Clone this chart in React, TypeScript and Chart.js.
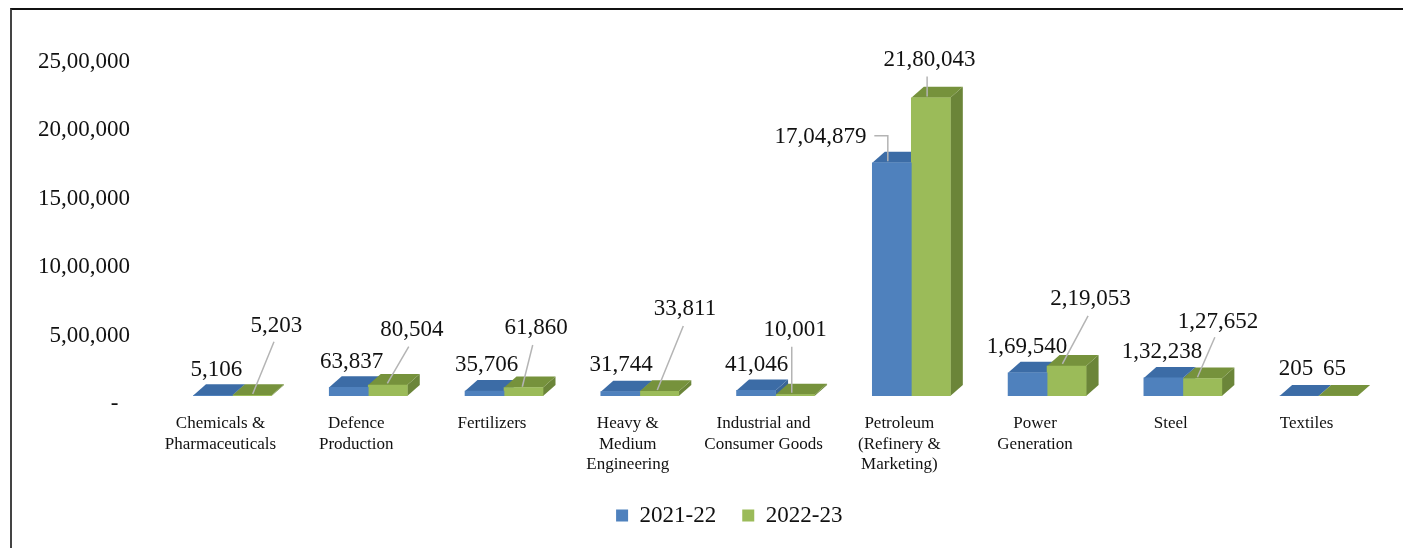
import React, { useEffect, useRef } from "react";
import { Chart, registerables } from "chart.js";

Chart.register(...registerables);

const categories = [
  ["Chemicals &", "Pharmaceuticals"],
  ["Defence", "Production"],
  ["Fertilizers"],
  ["Heavy &", "Medium", "Engineering"],
  ["Industrial and", "Consumer Goods"],
  ["Petroleum", "(Refinery &", "Marketing)"],
  ["Power", "Generation"],
  ["Steel"],
  ["Textiles"],
];
const values2122 = [5106, 63837, 35706, 31744, 41046, 1704879, 169540, 132238, 205];
const values2223 = [5203, 80504, 61860, 33811, 10001, 2180043, 219053, 127652, 65];
const seriesNames = ["2021-22", "2022-23"];

const FONT = '"Liberation Serif", "Times New Roman", serif';
const FRONT = ["#4f81bd", "#9bbb59"];
const TOP = ["#3c6ca6", "#76923c"];
const SIDE = ["#3a6596", "#6b8539"];
const DEPTH_X = 12.5;
const DEPTH_Y = 11;
const LEGEND_SHIFT = 36;

// Label centre relative to the top-centre of its bar
const labelShift2122 = [[3.5, -25.5], [2.75, -25.8], [2, -26], [0.75, -26.7], [0.5, -25.4], [-71.25, -26.3], [-0.5, -26], [-1.25, -26.3], [-3, -27]];
const labelShift2223 = [[24.5, -69.3], [24, -55], [12.5, -59.8], [25.75, -82.4], [0, -64.6], [-1.25, -38], [24, -66.8], [15.75, -56.9], [-3.5, -27]];
// Leader polylines relative to the top-centre of the bar
const leaders2122: Record<number, number[][]> = {
  5: [[-17.5, -27], [-4, -27], [-4, -1.5]],
};
const leaders2223: Record<number, number[][]> = {
  0: [[22, -53.6], [0.7, -1.3]],
  1: [[21, -38.3], [-0.4, -1.7]],
  2: [[9.2, -42.5], [-1.2, -0.8]],
  3: [[24, -65.4], [-2, -1.4]],
  4: [[-3.3, -47.9], [-3.3, -1.9]],
  5: [[-3.7, -21.3], [-3.7, -1.3]],
  6: [[21.5, -50.1], [-4.2, -2.1]],
  7: [[12.5, -41.3], [-4.9, -1.3]],
};

const fmt = (v: number) => v.toLocaleString("en-IN");

const box3d = {
  id: "box3d",
  afterLayout(chart: any) {
    const lg = chart.legend;
    if (lg) {
      lg.left += LEGEND_SHIFT;
      lg.right += LEGEND_SHIFT;
    }
  },
  beforeDatasetsDraw(chart: any) {
    const { ctx } = chart;
    const fill = (pts: number[][], color: string) => {
      ctx.beginPath();
      pts.forEach((p, i) => (i ? ctx.lineTo(p[0], p[1]) : ctx.moveTo(p[0], p[1])));
      ctx.closePath();
      ctx.fillStyle = color;
      ctx.fill();
    };
    const n = chart.data.labels.length;
    for (let i = 0; i < n; i++) {
      for (let d = 0; d < 2; d++) {
        const el = chart.getDatasetMeta(d).data[i];
        const x0 = el.x - el.width / 2;
        const x1 = el.x + el.width / 2;
        const y = el.y;
        const b = el.base;
        fill([[x1, y], [x1 + DEPTH_X, y - DEPTH_Y], [x1 + DEPTH_X, b - DEPTH_Y], [x1, b]], SIDE[d]);
        fill([[x0, y], [x0 + DEPTH_X, y - DEPTH_Y], [x1 + DEPTH_X, y - DEPTH_Y], [x1, y]], TOP[d]);
      }
    }
  },
  afterDatasetsDraw(chart: any) {
    const { ctx } = chart;
    const shifts = [labelShift2122, labelShift2223];
    const leaders = [leaders2122, leaders2223];
    ctx.save();
    ctx.font = `23px ${FONT}`;
    ctx.textAlign = "center";
    ctx.textBaseline = "middle";
    for (let d = 0; d < 2; d++) {
      const meta = chart.getDatasetMeta(d);
      meta.data.forEach((el: any, i: number) => {
        const path = leaders[d][i];
        if (path) {
          ctx.beginPath();
          path.forEach((p: number[], k: number) => {
            const px = el.x + p[0];
            const py = el.y + p[1];
            if (k) ctx.lineTo(px, py);
            else ctx.moveTo(px, py);
          });
          ctx.strokeStyle = "#b4b4b4";
          ctx.lineWidth = 1.5;
          ctx.stroke();
        }
        const [dx, dy] = shifts[d][i];
        ctx.fillStyle = "#111";
        ctx.fillText(fmt(chart.data.datasets[d].data[i]), el.x + dx, el.y + dy);
      });
    }
    ctx.restore();
  },
};

export default function App() {
  const ref = useRef<HTMLCanvasElement>(null);
  useEffect(() => {
    const chart = new Chart(ref.current as HTMLCanvasElement, {
      type: "bar",
      data: {
        labels: categories as any,
        datasets: [
          { label: seriesNames[0], data: values2122, backgroundColor: FRONT[0], barThickness: 39 },
          { label: seriesNames[1], data: values2223, backgroundColor: FRONT[1], barThickness: 39 },
        ],
      },
      options: {
        responsive: false,
        animation: false,
        maintainAspectRatio: false,
        layout: { padding: { left: 0, right: 16.5, top: 54, bottom: 11 } },
        plugins: {
          legend: {
            position: "bottom",
            labels: {
              color: "#111",
              font: { family: FONT, size: 23 },
              usePointStyle: true,
              pointStyle: "rect",
              boxWidth: 12,
              boxHeight: 12,
              padding: 26,
              generateLabels: (c: any) =>
                c.data.datasets.map((ds: any, i: number) => ({
                  text: ds.label,
                  fillStyle: FRONT[i],
                  strokeStyle: FRONT[i],
                  lineWidth: 0,
                  pointStyle: "rect",
                  datasetIndex: i,
                  fontColor: "#111",
                })),
            },
          },
          tooltip: { enabled: false },
        },
        scales: {
          x: {
            grid: { display: false },
            border: { display: false },
            afterFit: (s: any) => {
              s.height = 82;
            },
            ticks: {
              autoSkip: false,
              maxRotation: 0,
              minRotation: 0,
              padding: 9,
              labelOffset: -12,
              color: "#111",
              font: { family: FONT, size: 17, lineHeight: 1.22 },
            },
          },
          y: {
            min: 0,
            max: 2500000,
            grid: { display: false },
            border: { display: false },
            afterFit: (s: any) => {
              s.width = 164.6;
            },
            ticks: {
              stepSize: 500000,
              padding: 26.6,
              labelOffset: 8,
              color: "#111",
              font: { family: FONT, size: 23 },
              callback: (v: any) => (v === 0 ? "-  " : fmt(v)),
            },
          },
        },
      },
      plugins: [box3d],
    } as any);
    return () => chart.destroy();
  }, []);
  return (
    <div style={{ position: "absolute", left: 0, top: 0, width: 1403, height: 548, overflow: "hidden", background: "#fff" }}>
      <canvas ref={ref} width={1403} height={548} style={{ display: "block" }} />
      <div style={{ position: "absolute", left: 10, top: 8, right: 0, bottom: 0, borderTop: "2px solid #111", borderLeft: "2px solid #444" }} />
    </div>
  );
}
